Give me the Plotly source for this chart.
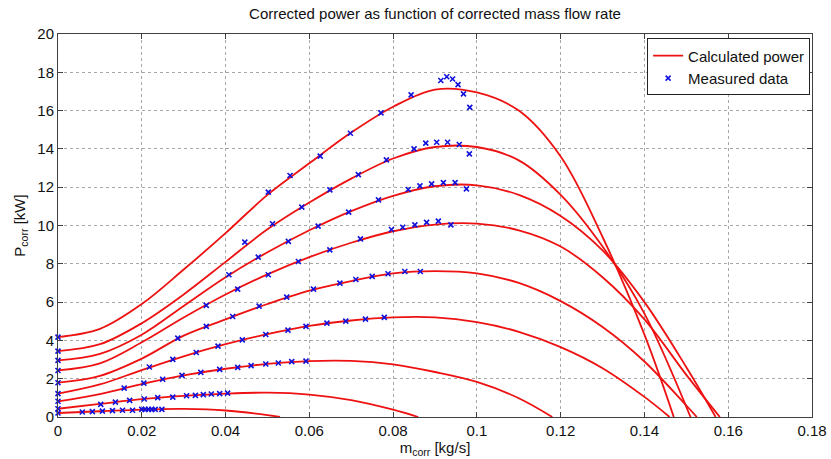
import plotly.graph_objects as go

# Mass-flow grid shared by the calculated power curves [kg/s]
mass_grid = [0.00, 0.01, 0.02, 0.03, 0.04, 0.05, 0.06, 0.07, 0.08,
             0.09, 0.10, 0.11, 0.12, 0.13, 0.14, 0.15]

# Calculated power per speed line [kW] on mass_grid (highest speed first)
calc_p1 = [4.17, 4.6, 5.9, 7.7, 9.6, 11.6, 13.25, 14.85, 16.2, 17.1, 16.95, 16.0, 13.6, 9.4, 4.3]
calc_p2 = [3.44, 3.8, 4.9, 6.4, 8.1, 9.8, 11.2, 12.45, 13.5, 14.1, 14.1, 13.4, 11.6, 8.9, 5.4]
calc_p3 = [2.96, 3.3, 4.3, 5.8, 7.3, 8.6, 9.75, 10.75, 11.55, 12.05, 12.1, 11.6, 10.5, 8.7, 6.0, 2.6]
calc_p4 = [2.43, 2.8, 3.9, 5.2, 6.4, 7.45, 8.35, 9.1, 9.7, 10.05, 10.1, 9.75, 8.9, 7.3, 5.1, 2.2]
calc_p5 = [1.79, 2.15, 3.05, 4.25, 5.1, 5.9, 6.6, 7.1, 7.5, 7.62, 7.5, 7.0, 6.05, 4.7, 2.9, 0.6]
calc_p6 = [1.22, 1.7, 2.45, 3.17, 3.8, 4.33, 4.76, 5.04, 5.2, 5.2, 4.95, 4.45, 3.65, 2.55, 1.05]
calc_p7 = [0.82, 1.2, 1.72, 2.17, 2.52, 2.77, 2.92, 2.93, 2.75, 2.35, 1.83, 0.98]
calc_p8 = [0.43, 0.68, 0.93, 1.1, 1.22, 1.27, 1.17, 0.88, 0.38]
calc_p9 = [0.21, 0.30, 0.39, 0.42, 0.34, 0.10]

# Mass flow where each calculated curve reaches zero power [kg/s]
zero_power_mass = [0.147, 0.151, 0.157, 0.158, 0.1525, 0.146, 0.118, 0.086, 0.053]

# Measured operating points (corrected mass flow [kg/s], corrected power [kW])
meas_mass = [
    0, 0, 0, 0, 0, 0, 0, 0, 0,
    0.0502, 0.0554, 0.0626, 0.0698, 0.0771, 0.0843, 0.0914, 0.0928, 0.0942, 0.0955, 0.0968, 0.0983,
    0.0446, 0.0512, 0.0582, 0.0649, 0.0717, 0.0784, 0.0850, 0.0878, 0.0904, 0.0930, 0.0958, 0.0982,
    0.0408, 0.0478, 0.0550, 0.0621, 0.0694, 0.0765, 0.0836, 0.0864, 0.0892, 0.0920, 0.0948, 0.0975,
    0.0354, 0.0429, 0.0502, 0.0574, 0.0649, 0.0722, 0.0796, 0.0823, 0.0852, 0.0880, 0.0908, 0.0938,
    0.0286, 0.0354, 0.0417, 0.0480, 0.0546, 0.0610, 0.0673, 0.0711, 0.0750, 0.0788, 0.0828, 0.0865,
    0.0218, 0.0274, 0.0330, 0.0382, 0.0440, 0.0496, 0.0549, 0.0592, 0.0642, 0.0687, 0.0734, 0.0779,
    0.0158, 0.0205, 0.0250, 0.0296, 0.0341, 0.0386, 0.0429, 0.0461, 0.0496, 0.0526, 0.0558, 0.0592,
    0.0102, 0.0137, 0.0171, 0.0206, 0.0238, 0.0274, 0.0307, 0.0328, 0.0347, 0.0366, 0.0386, 0.0405,
    0.0058, 0.0082, 0.0106, 0.0130, 0.0154, 0.0178, 0.0200, 0.0208, 0.0216, 0.0224, 0.0232, 0.0248,
]
meas_power = [
    4.17, 3.44, 2.96, 2.43, 1.79, 1.22, 0.82, 0.43, 0.21,
    11.74, 12.61, 13.62, 14.82, 15.88, 16.82, 17.57, 17.77, 17.65, 17.36, 16.87, 16.17,
    9.13, 10.09, 10.96, 11.86, 12.66, 13.43, 14.00, 14.30, 14.35, 14.35, 14.23, 13.74,
    7.43, 8.35, 9.17, 9.97, 10.70, 11.34, 11.88, 12.07, 12.17, 12.24, 12.24, 11.91,
    5.83, 6.68, 7.43, 8.12, 8.73, 9.30, 9.79, 9.91, 10.03, 10.16, 10.23, 10.03,
    4.12, 4.73, 5.25, 5.79, 6.26, 6.68, 6.99, 7.18, 7.34, 7.48, 7.60, 7.60,
    2.61, 3.01, 3.37, 3.70, 4.03, 4.31, 4.54, 4.73, 4.90, 5.01, 5.11, 5.20,
    1.51, 1.77, 1.97, 2.17, 2.33, 2.49, 2.59, 2.68, 2.77, 2.82, 2.89, 2.92,
    0.66, 0.78, 0.87, 0.94, 1.01, 1.04, 1.11, 1.13, 1.17, 1.20, 1.22, 1.25,
    0.26, 0.28, 0.31, 0.33, 0.35, 0.35, 0.40, 0.40, 0.40, 0.40, 0.40, 0.40,
]

# Axis ticks
x_ticks = [0, 0.02, 0.04, 0.06, 0.08, 0.10, 0.12, 0.14, 0.16, 0.18]
x_tick_text = ["0", "0.02", "0.04", "0.06", "0.08", "0.1", "0.12", "0.14", "0.16", "0.18"]
y_ticks = [0, 2, 4, 6, 8, 10, 12, 14, 16, 18, 20]

FONT = "Arial, Liberation Sans, sans-serif"
curves = [calc_p1, calc_p2, calc_p3, calc_p4, calc_p5, calc_p6, calc_p7, calc_p8, calc_p9]

fig = go.Figure()

for i, (p, m_end) in enumerate(zip(curves, zero_power_mass)):
    xs = mass_grid[:len(p)] + [m_end]
    ys = p + [0.0]
    fig.add_trace(go.Scatter(
        x=xs, y=ys, mode="lines",
        line=dict(color="#ee1111", width=1.8, shape="spline", smoothing=1.0),
        name="Calculated power", legendgroup="calc", showlegend=(i == 0),
    ))

fig.add_trace(go.Scatter(
    x=meas_mass, y=meas_power, mode="markers",
    marker=dict(symbol="x-thin-open", size=5, color="#1010dd",
                line=dict(color="#1010dd", width=1.6)),
    name="Measured data", cliponaxis=False,
))

axis_common = dict(
    showline=True, linecolor="#404040", linewidth=1, mirror="allticks",
    ticks="inside", ticklen=5, tickcolor="#404040",
    showgrid=True, gridcolor="#a8a8a8", griddash="dot", gridwidth=1,
    zeroline=False, automargin=False,
    tickfont=dict(family=FONT, size=15, color="#111111"),
)

fig.update_layout(
    width=831, height=459,
    margin=dict(l=58, r=19, t=34, b=42),
    paper_bgcolor="white", plot_bgcolor="white",
    font=dict(family=FONT, size=15, color="#111111"),
    title=dict(text="Corrected power as function of corrected mass flow rate",
               x=0.5, xref="paper", y=1 - 14 / 459, yref="container",
               xanchor="center", yanchor="middle",
               font=dict(family=FONT, size=15, color="#111111")),
    xaxis=dict(range=[0, 0.18], tickvals=x_ticks, ticktext=x_tick_text,
               title=dict(text="m<sub>corr</sub> [kg/s]", standoff=4,
                          font=dict(family=FONT, size=15)),
               **axis_common),
    yaxis=dict(range=[0, 20], tickvals=y_ticks,
               title=dict(text="P<sub>corr</sub> [kW]", standoff=8,
                          font=dict(family=FONT, size=15)),
               **axis_common),
    legend=dict(x=0.9975, y=0.9885, xanchor="right", yanchor="top",
                bgcolor="white", bordercolor="#222222", borderwidth=1,
                font=dict(family=FONT, size=15, color="#111111"),
                tracegroupgap=0),
    showlegend=True,
)

fig.write_html("out.html")
